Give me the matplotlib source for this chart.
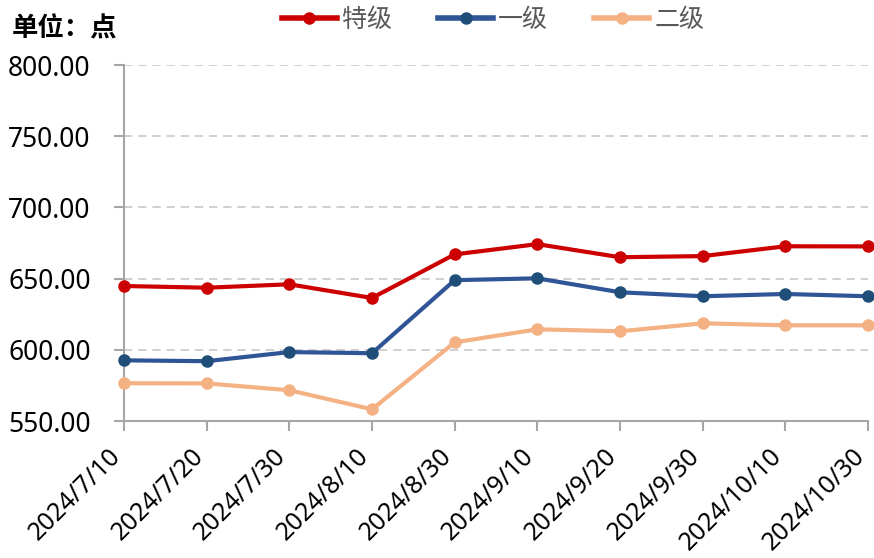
import matplotlib
matplotlib.use("Agg")
import matplotlib.pyplot as plt
from matplotlib.transforms import ScaledTranslation

dates = ["2024/7/10", "2024/7/20", "2024/7/30", "2024/8/10", "2024/8/30",
         "2024/9/10", "2024/9/20", "2024/9/30", "2024/10/10", "2024/10/30"]
special = [644.8, 643.6, 646.0, 636.4, 667.0, 674.2, 665.0, 665.8, 672.7, 672.6]
grade1 = [592.6, 592.0, 598.4, 597.6, 648.9, 650.2, 640.4, 637.6, 639.2, 637.6]
grade2 = [576.5, 576.4, 571.6, 558.2, 605.2, 614.4, 613.0, 618.6, 617.2, 617.2]
series_names = ["特级", "一级", "二级"]
yticks = [550, 600, 650, 700, 750, 800]

plt.rcParams['font.family'] = ['Noto Sans', 'Noto Sans CJK SC', 'DejaVu Sans']

fig = plt.figure(figsize=(8.74, 5.58), dpi=100)
ax = fig.add_axes([124/874, 1-421/558, (868-124)/874, (421-65)/558])

x = list(range(len(dates)))
ax.plot(x, special, color="#CC0000", lw=3, marker="o", ms=8, mfc="#CC0000", mec="#CC0000", label=series_names[0], zorder=3, clip_on=False)
ax.plot(x, grade1, color="#2F5597", lw=3, marker="o", ms=8, mfc="#1F4E79", mec="#1F4E79", label=series_names[1], zorder=3, clip_on=False)
ax.plot(x, grade2, color="#F4B183", lw=3, marker="o", ms=8, mfc="#F4B183", mec="#F4B183", label=series_names[2], zorder=3, clip_on=False)

ax.set_xlim(0, len(dates)-1)
ax.set_ylim(550, 800)
ax.set_yticks(yticks)
ax.set_yticklabels([f"{v:.2f}" for v in yticks], fontsize=19)
ax.set_xticks(x)
ax.set_xticklabels(dates, rotation=45, ha="right", va="center", rotation_mode="anchor", fontsize=18)
ax.grid(axis="y", color="#C8C8C8", ls=(0, (5, 3.5)), lw=1.2)
ax.set_axisbelow(True)
for s in ["top", "right"]:
    ax.spines[s].set_visible(False)
for s in ["left", "bottom"]:
    ax.spines[s].set_color("#A6A6A6")
    ax.spines[s].set_linewidth(1.5)
ax.tick_params(axis="both", color="#A6A6A6", width=1.5, length=7)
ax.tick_params(axis="y", pad=17)
ax.tick_params(axis="x", pad=13)

offset = ScaledTranslation(-7/100, -4/100, fig.dpi_scale_trans)
for lbl in ax.get_xticklabels():
    lbl.set_transform(lbl.get_transform() + offset)

fig.text(12/874, 1-29/558, "单位：点", fontsize=19, fontweight="bold",
         family=['Noto Sans CJK SC'], va="center", ha="left")

leg = ax.legend(loc="center", bbox_to_anchor=(493/874, 1-20/558), bbox_transform=fig.transFigure,
                ncol=3, frameon=False, handlelength=2.2, columnspacing=1.85,
                handletextpad=0.2, prop={'family': ['Noto Sans CJK SC'], 'size': 18})
for t in leg.get_texts():
    t.set_color("#595959")
for h in leg.legend_handles:
    h.set_linewidth(4)

fig.savefig("out.png", dpi=100)
